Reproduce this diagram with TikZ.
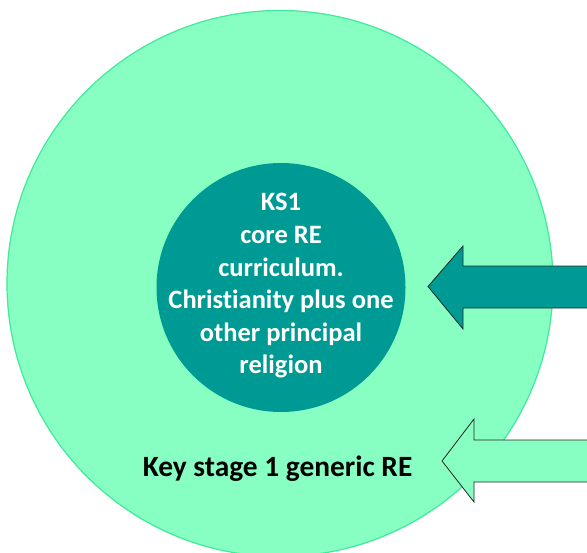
\documentclass[tikz,border=0pt]{standalone}
\usepackage{fontspec}
\setmainfont{Carlito}[Ligatures=NoCommon]
\usetikzlibrary{positioning}
\definecolor{ksgreen}{HTML}{88FFC2}
\definecolor{ksedge}{HTML}{3DEB98}
\definecolor{ksteal}{HTML}{009A94}

\begin{document}
\begin{tikzpicture}[
		x=1bp, y=-1bp,
		outer/.style={circle, fill=ksgreen, draw=ksedge, line width=1.2bp, minimum size=546bp, inner sep=0pt},
		inner/.style={circle, fill=ksteal, minimum size=249bp, inner sep=0pt},
		coretext/.style={text=white, align=center, font=\fontsize{26.5bp}{32.6bp}\selectfont\bfseries},
		stagetext/.style={text=black, font=\fontsize{29.4bp}{35bp}\selectfont\bfseries},
		bigarrow/.style={draw=black!85, line width=0.8bp, line join=miter}
		]
		\useasboundingbox (0,0) rectangle (587,553);
		
		% Key stage 1 (outer circle)
		\node[outer] (ks) at (280,283.5) {};
		
		% Core RE (inner circle)
		\node[inner] (core) at (281,287.5) {};
		\node[coretext] (corelabel) at (281,286) {KS1\\core RE\\curriculum.\\Christianity plus one\\other principal\\religion};
		
		% Generic RE label
		\node[stagetext, anchor=base] (generic) at (277.6,476) {Key stage 1 generic RE};
		
		% Arrows
		\draw[bigarrow, fill=ksteal] (428,286.5) -- (463,246) -- (463,266) -- (600,266)
			-- (600,308) -- (463,308) -- (463,329) -- cycle;
		\draw[bigarrow, fill=ksgreen] (442,461) -- (474,419) -- (474,440) -- (600,440)
			-- (600,482) -- (474,482) -- (474,502) -- cycle;
		
	\end{tikzpicture}
\end{document}
